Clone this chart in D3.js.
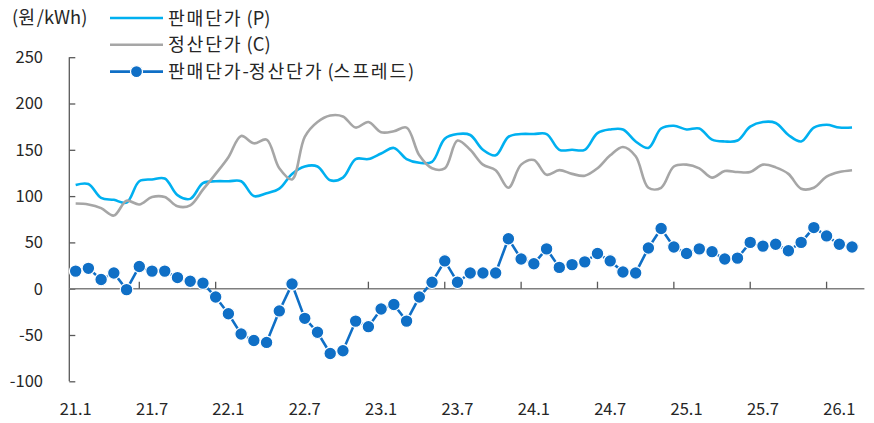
<!DOCTYPE html>
<html>
<head>
<meta charset="utf-8">
<script src="https://cdn.jsdelivr.net/npm/d3@7"></script>
<style>
  html, body { margin: 0; padding: 0; background: #fff; }
  svg { display: block; font-family: "Noto Sans CJK KR", "Noto Sans", sans-serif; }
</style>
</head>
<body>
<svg id="chart" width="874" height="423"></svg>
<script>
const months = [
  '21.1','21.2','21.3','21.4','21.5','21.6','21.7','21.8','21.9','21.10','21.11','21.12',
  '22.1','22.2','22.3','22.4','22.5','22.6','22.7','22.8','22.9','22.10','22.11','22.12',
  '23.1','23.2','23.3','23.4','23.5','23.6','23.7','23.8','23.9','23.10','23.11','23.12',
  '24.1','24.2','24.3','24.4','24.5','24.6','24.7','24.8','24.9','24.10','24.11','24.12',
  '25.1','25.2','25.3','25.4','25.5','25.6','25.7','25.8','25.9','25.10','25.11','25.12',
  '26.1','26.2'
];

// 판매단가 (P)
const salePrice = [
  112,113,98,96,93,116,118,119,101,97,114,116,
  116,116,100,103,108,124,132,132,117,120,140,140,
  146,152,140,136,137,162,167,166,150,144,164,167,
  167,167,150,150,150,168,172,172,159,152,173,176,
  172,173,161,159,160,175,180,179,166,159,174,177,
  174,174
];

// 정산단가 (C)
const settlePrice = [
  92,91,87,79,95,91,99,99,89,90,107,124,
  142,165,157,161,130,118,164,180,187,186,174,180,
  169,170,174,144,130,130,160,150,134,128,109,134,
  139,123,128,124,122,130,144,153,143,109,109,132,
  134,130,120,127,126,126,134,131,124,108,109,121,
  126,128
];

// 판매단가-정산단가 (스프레드)
const spread = [
  19,22,10,17,-1,24,19,19,12,8,6,-9,
  -27,-49,-56,-58,-24,5,-32,-47,-70,-67,-35,-41,
  -22,-17,-35,-9,7,30,7,17,17,17,54,32,
  27,43,23,26,29,38,30,18,17,44,65,45,
  38,43,40,32,33,50,46,48,41,50,66,57,
  48,45
];

const xTickLabels = ['21.1','21.7','22.1','22.7','23.1','23.7','24.1','24.7','25.1','25.7','26.1'];
const yTicks = [-100, -50, 0, 50, 100, 150, 200, 250];

const colorP = '#00b0f0';
const colorC = '#a6a6a6';
const colorS = '#0f6fc6';
const textColor = '#262626';
const tickSize = 16.5;
const legendSize = 18.3;

const svg = d3.select('#chart');

const x = d3.scaleBand().domain(months).range([69.3, 858.4]).paddingInner(0).paddingOuter(0);
const y = d3.scaleLinear().domain([-100, 250]).range([381.3, 57.2]);
const cx = d => x(d) + x.bandwidth() / 2;

// mixed text: hangul runs spaced out a little, like the wider original font
const mixedText = function(sel, str)
{
  const parts = str.split(/([가-힣]+)/).filter(s => s.length);
  parts.forEach(p => {
    const t = sel.append('tspan').text(p);
    if (/[가-힣]/.test(p)) t.attr('letter-spacing', 1.8);
  });
};

// y axis
const yAxis = svg.append('g').attr('transform', `translate(${x.range()[0]},0)`)
  .call(d3.axisRight(y).tickValues(yTicks).tickSize(6).tickFormat(''));
yAxis.select('.domain').attr('stroke', '#595959').attr('stroke-width', 1.3).attr('d', `M0,${y(-100)}H0V${y(250)}`);
yAxis.selectAll('.tick line').attr('stroke', '#595959').attr('stroke-width', 1.3);

svg.append('g').selectAll('text').data(yTicks).join('text')
  .attr('x', 43).attr('y', d => y(d)).attr('dy', '0.36em')
  .attr('text-anchor', 'end').attr('font-size', tickSize).attr('fill', textColor)
  .text(d => d);

// x axis at zero
const xAxis = svg.append('g').attr('transform', `translate(0,${y(0)})`);
xAxis.append('line').attr('x1', x.range()[0]).attr('x2', x.range()[1] + 6)
  .attr('stroke', '#7f7f7f').attr('stroke-width', 1.5);
xAxis.selectAll('.xt').data(xTickLabels.slice(1)).join('line').attr('class', 'xt')
  .attr('x1', d => x(d) - x.bandwidth() / 2).attr('x2', d => x(d) - x.bandwidth() / 2)
  .attr('y1', 0).attr('y2', -7).attr('stroke', '#595959').attr('stroke-width', 1.3);

svg.append('g').selectAll('text').data(xTickLabels).join('text')
  .attr('x', d => cx(d)).attr('y', 409).attr('dy', '0.36em')
  .attr('text-anchor', 'middle').attr('font-size', tickSize).attr('fill', textColor)
  .text(d => d);

// lines
const smooth = d3.line().x((d, i) => cx(months[i])).y(d => y(d)).curve(d3.curveCatmullRom.alpha(0.5));
const straight = d3.line().x((d, i) => cx(months[i])).y(d => y(d));

svg.append('path').datum(salePrice).attr('d', smooth)
  .attr('fill', 'none').attr('stroke', colorP).attr('stroke-width', 2.6);
svg.append('path').datum(settlePrice).attr('d', smooth)
  .attr('fill', 'none').attr('stroke', colorC).attr('stroke-width', 2.6);
svg.append('path').datum(spread).attr('d', straight)
  .attr('fill', 'none').attr('stroke', colorS).attr('stroke-width', 2.6);
svg.append('g').selectAll('circle').data(spread).join('circle')
  .attr('cx', (d, i) => cx(months[i])).attr('cy', d => y(d)).attr('r', 6.3)
  .attr('fill', colorS).attr('stroke', '#fff').attr('stroke-width', 1.2);

// unit + legend
svg.append('text').attr('x', 12).attr('y', 17).attr('dy', '0.36em')
  .attr('font-size', legendSize).attr('fill', textColor).call(mixedText, '(원/kWh)');

const legend = [
  { name: '판매단가 (P)', color: colorP, dot: false },
  { name: '정산단가 (C)', color: colorC, dot: false },
  { name: '판매단가-정산단가 (스프레드)', color: colorS, dot: true }
];
const lg = svg.append('g').selectAll('g').data(legend).join('g')
  .attr('transform', (d, i) => `translate(110,${18 + i * 26.8})`);
lg.append('line').attr('x1', 0).attr('x2', 53).attr('stroke', d => d.color).attr('stroke-width', 2.6);
lg.filter(d => d.dot).append('circle').attr('cx', 26.5).attr('r', 6)
  .attr('fill', colorS).attr('stroke', '#fff').attr('stroke-width', 1.2);
lg.append('text').attr('x', 58).attr('dy', '0.36em').attr('font-size', legendSize)
  .attr('fill', textColor).each(function(d) { mixedText(d3.select(this), d.name); });
</script>
</body>
</html>
